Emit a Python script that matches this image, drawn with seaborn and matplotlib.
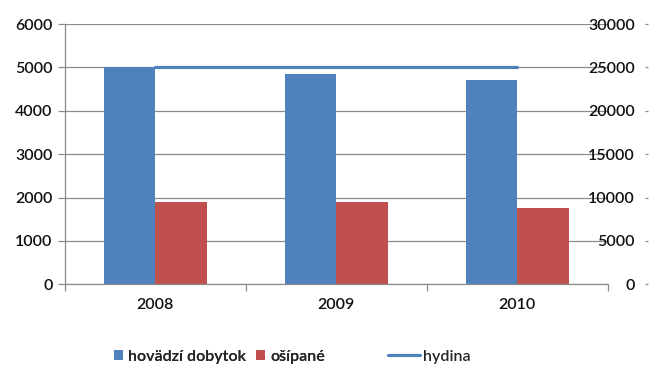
import matplotlib
matplotlib.use("Agg")
import matplotlib.pyplot as plt
from matplotlib.lines import Line2D
from matplotlib.patches import Patch
from matplotlib.ticker import FixedLocator
import seaborn as sns
import pandas as pd

years = ["2008", "2009", "2010"]
hovadzi_dobytok = [5010, 4850, 4700]
osipane = [1890, 1890, 1770]
hydina = [25050, 25050, 25050]

left_ticks = [0, 1000, 2000, 3000, 4000, 5000, 6000]
right_ticks = [0, 5000, 10000, 15000, 20000, 25000, 30000]

BLUE = "#4F81BD"
RED = "#C0504D"
GRID = "#8C8C8C"
FONT = "Lato"
TXT = "#111111"

sns.set_theme(style="white")
plt.rcParams["font.family"] = [FONT, "DejaVu Sans"]
plt.rcParams["font.weight"] = "semibold"

bars = pd.DataFrame({
    "rok": years * 2,
    "pocet": hovadzi_dobytok + osipane,
    "druh": ["hovädzí dobytok"] * 3 + ["ošípané"] * 3,
})
line = pd.DataFrame({"rok": years, "pocet": hydina})

fig = plt.figure(figsize=(6.5, 3.65), dpi=100)
ax = fig.add_axes([0.1, 0.221, 0.835, 0.713])

sns.barplot(data=bars, x="rok", y="pocet", hue="druh",
            palette=[BLUE, RED], width=0.57, saturation=1,
            linewidth=0, ax=ax, legend=False, zorder=2)

ax.set_ylim(0, 6000)
ax.set_xlim(-0.5, 2.5)
ax.set_yticks(left_ticks)
ax.set_yticklabels([str(t) for t in left_ticks])
ax.grid(axis="y", color=GRID, linewidth=0.9, zorder=0)
ax.set_axisbelow(True)
for s in ["top", "right"]:
    ax.spines[s].set_visible(False)
for s in ["left", "bottom"]:
    ax.spines[s].set_color(GRID)
    ax.spines[s].set_linewidth(0.9)
ax.tick_params(axis="y", left=True, length=5, width=0.9, color=GRID,
               pad=4, labelsize=11.5, labelcolor=TXT)
ax.xaxis.set_minor_locator(FixedLocator([-0.5, 0.5, 1.5, 2.5]))
ax.tick_params(axis="x", which="major", length=0, pad=10,
               labelsize=11.5, labelcolor=TXT)
ax.tick_params(axis="x", which="minor", bottom=True, length=5,
               width=0.9, color=GRID)
ax.set_xlabel("")
ax.set_ylabel("")

ax2 = ax.twinx()
sns.lineplot(data=line, x="rok", y="pocet", color=BLUE, linewidth=2.3,
             ax=ax2, zorder=3)
ax2.set_ylim(0, 30000)
ax2.set_xlim(-0.5, 2.5)
ax2.set_yticks(right_ticks)
ax2.set_yticklabels([str(t) for t in right_ticks])
ax2.set_ylabel("")
for s in ["top", "left", "bottom"]:
    ax2.spines[s].set_visible(False)
ax2.spines["right"].set_position(("outward", 26.6))
ax2.spines["right"].set_visible(False)
ax2.tick_params(axis="y", right=True, length=2.2, width=0.9, color=GRID,
                pad=-9.4, labelsize=11.5, labelcolor=TXT)
for lab in ax2.get_yticklabels():
    lab.set_horizontalalignment("right")

bar_handles = [
    Patch(facecolor=BLUE, edgecolor="none", label="hovädzí dobytok"),
    Patch(facecolor=RED, edgecolor="none", label="ošípané"),
]
leg1 = fig.legend(handles=bar_handles, loc="center left",
                  bbox_to_anchor=(0.165, 0.022), ncol=2, frameon=False,
                  fontsize=11.5, handlelength=0.6, handleheight=0.6,
                  handletextpad=0.3, columnspacing=0.6, borderaxespad=0)
line_handle = [Line2D([0], [0], color=BLUE, linewidth=2.3, label="hydina")]
fig.legend(handles=line_handle, loc="center left",
           bbox_to_anchor=(0.587, 0.022), frameon=False, fontsize=11.5,
           handlelength=2.0, handletextpad=0.2, borderaxespad=0)
fig.add_artist(leg1)

fig.savefig("out.png", dpi=100)
